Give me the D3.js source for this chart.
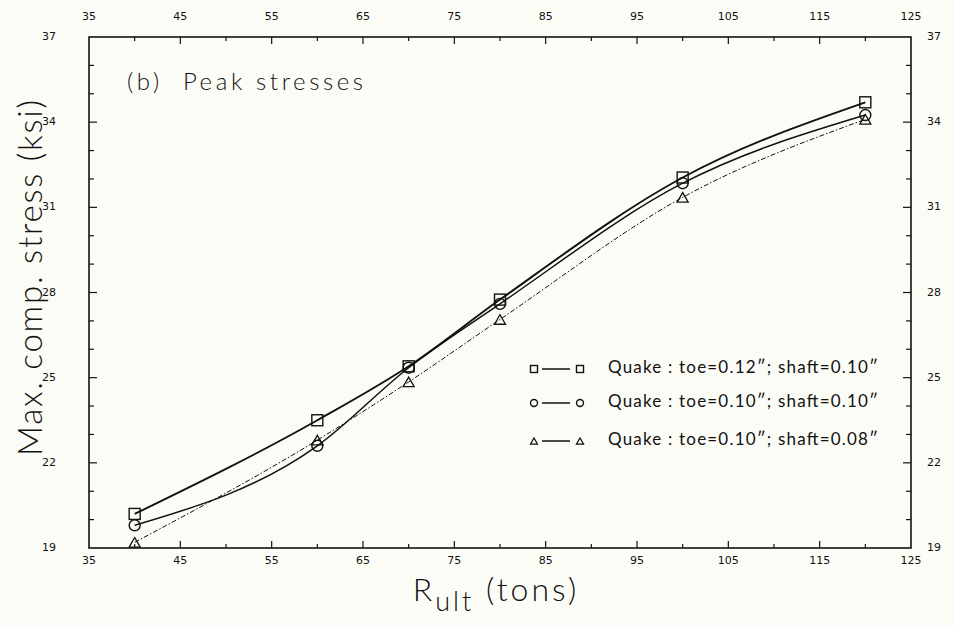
<!DOCTYPE html>
<html>
<head>
<meta charset="utf-8">
<script src="https://cdn.jsdelivr.net/npm/d3@7"></script>
<style>
  html, body { margin: 0; padding: 0; background: #fcfcf7; }
  svg { display: block; }
  .tick-label { font-family: "DejaVu Sans", sans-serif; font-size: 11px; fill: #111; }
  .big { font-family: Lato, "DejaVu Sans", sans-serif; font-weight: 300; fill: #111; }
</style>
</head>
<body>
<svg id="chart" width="954" height="626"></svg>
<script>
// Ultimate resistance (tons) at which the runs were made
const rult = [40, 60, 70, 80, 100, 120];

// Peak compressive stress (ksi) for each quake setting
const toe012Shaft010 = [20.2, 23.5, 25.4, 27.75, 32.05, 34.7];
const toe010Shaft010 = [19.8, 22.6, 25.35, 27.6, 31.85, 34.25];
const toe010Shaft008 = [19.2, 22.8, 24.85, 27.05, 31.35, 34.1];

const seriesNames = [
  "Quake : toe=0.12\u2033; shaft=0.10\u2033",
  "Quake : toe=0.10\u2033; shaft=0.10\u2033",
  "Quake : toe=0.10\u2033; shaft=0.08\u2033"
];

// Axis tick values
const xTicks = [35, 40, 45, 50, 55, 60, 65, 70, 75, 80, 85, 90, 95, 100, 105, 110, 115, 120, 125];
const xTickLabels = [35, 45, 55, 65, 75, 85, 95, 105, 115, 125];
const yTicks = d3.range(19, 38, 1);
const yTickLabels = [19, 22, 25, 28, 31, 34, 37];

const svg = d3.select("#chart");
const plotLeft = 89, plotRight = 911, plotTop = 37, plotBottom = 548;

const x = d3.scaleLinear().domain([35, 125]).range([plotLeft, plotRight]);
const y = d3.scaleLinear().domain([19, 37]).range([plotBottom, plotTop]);

// Frame
svg.append("rect")
  .attr("x", plotLeft).attr("y", plotTop)
  .attr("width", plotRight - plotLeft).attr("height", plotBottom - plotTop)
  .attr("fill", "none").attr("stroke", "#111").attr("stroke-width", 1.6);

// Inward ticks on all four sides; labelled values get longer ticks
const isMajorX = v => xTickLabels.includes(v);
const isMajorY = v => yTickLabels.includes(v);
const ticks = svg.append("g").attr("stroke", "#111").attr("stroke-width", 1.2);

xTicks.filter(v => v > 35 && v < 125).forEach(v => {
  const len = isMajorX(v) ? 7 : 4;
  ticks.append("line").attr("x1", x(v)).attr("x2", x(v)).attr("y1", plotBottom).attr("y2", plotBottom - len);
  ticks.append("line").attr("x1", x(v)).attr("x2", x(v)).attr("y1", plotTop).attr("y2", plotTop + len);
});
yTicks.filter(v => v > 19 && v < 37).forEach(v => {
  const len = isMajorY(v) ? 8 : 5;
  ticks.append("line").attr("x1", plotLeft).attr("x2", plotLeft + len).attr("y1", y(v)).attr("y2", y(v));
  ticks.append("line").attr("x1", plotRight).attr("x2", plotRight - len).attr("y1", y(v)).attr("y2", y(v));
});

// Tick labels
xTickLabels.forEach(v => {
  svg.append("text").attr("class", "tick-label")
    .attr("x", x(v)).attr("y", 561).attr("text-anchor", "middle").attr("dominant-baseline", "middle").text(v);
  svg.append("text").attr("class", "tick-label")
    .attr("x", x(v)).attr("y", 17).attr("text-anchor", "middle").attr("dominant-baseline", "middle").text(v);
});
yTickLabels.forEach(v => {
  svg.append("text").attr("class", "tick-label")
    .attr("x", 49).attr("y", y(v)).attr("text-anchor", "middle").attr("dominant-baseline", "middle").text(v);
  svg.append("text").attr("class", "tick-label")
    .attr("x", 934).attr("y", y(v)).attr("text-anchor", "middle").attr("dominant-baseline", "middle").text(v);
});

// Axis titles
svg.append("text").attr("class", "big")
  .attr("transform", `translate(42,278) rotate(-90)`)
  .attr("text-anchor", "middle")
  .style("font-size", "33px")
  .attr("textLength", 356).attr("lengthAdjust", "spacing")
  .text("Max. comp. stress (ksi)");

const xTitle = svg.append("text").attr("class", "big")
  .attr("x", 496).attr("y", 601).attr("text-anchor", "middle")
  .style("font-size", "32px").style("letter-spacing", "3px");
xTitle.append("tspan").text("R");
xTitle.append("tspan").attr("dy", 10).style("font-size", "27px").text("ult");
xTitle.append("tspan").attr("dy", -10).text(" (tons)");

// Panel title
svg.append("text").attr("class", "big")
  .attr("x", 127).attr("y", 90)
  .style("font-size", "24px")
  .attr("xml:space", "preserve")
  .attr("textLength", 236).attr("lengthAdjust", "spacing")
  .text("(b)  Peak stresses");

// Series definitions
const series = [
  { values: toe012Shaft010, marker: "square", width: 1.9, dash: null },
  { values: toe010Shaft010, marker: "circle", width: 1.5, dash: null },
  { values: toe010Shaft008, marker: "triangle", width: 1.0, dash: "5,2,1.5,2" }
];

const line = d3.line()
  .x(d => x(d[0])).y(d => y(d[1]))
  .curve(d3.curveMonotoneX);

function drawMarker(g, kind, cx, cy, size) {
  if (kind === "square") {
    g.append("rect").attr("x", cx - size / 2).attr("y", cy - size / 2)
      .attr("width", size).attr("height", size)
      .attr("fill", "none").attr("stroke", "#111").attr("stroke-width", 1.4);
  } else if (kind === "circle") {
    g.append("circle").attr("cx", cx).attr("cy", cy).attr("r", size / 2)
      .attr("fill", "none").attr("stroke", "#111").attr("stroke-width", 1.4);
  } else {
    const h = size * 0.87;
    g.append("path")
      .attr("d", `M${cx - size / 2},${cy + h / 2}L${cx + size / 2},${cy + h / 2}L${cx},${cy - h / 2}Z`)
      .attr("fill", "none").attr("stroke", "#111").attr("stroke-width", 1.3);
  }
}

const plot = svg.append("g");
series.forEach(s => {
  const pts = rult.map((r, i) => [r, s.values[i]]);
  plot.append("path").datum(pts)
    .attr("d", line)
    .attr("fill", "none").attr("stroke", "#111")
    .attr("stroke-width", s.width)
    .attr("stroke-dasharray", s.dash);
  const mg = plot.append("g");
  pts.forEach(p => drawMarker(mg, s.marker, x(p[0]), y(p[1]), 11));
});

// Legend
const legendRows = [369, 403, 441];
series.forEach((s, i) => {
  const g = svg.append("g");
  const ly = legendRows[i];
  drawMarker(g, s.marker, 534, ly, 7);
  g.append("line").attr("x1", 542).attr("x2", 570).attr("y1", ly).attr("y2", ly)
    .attr("stroke", "#111").attr("stroke-width", 1.5);
  drawMarker(g, s.marker, 580, ly, 7);
  g.append("text").attr("x", 608).attr("y", ly).attr("dominant-baseline", "middle")
    .style("font-family", "Lato, 'DejaVu Sans', sans-serif")
    .style("font-size", "17px").attr("fill", "#111")
    .attr("textLength", 270).attr("lengthAdjust", "spacing")
    .text(seriesNames[i]);
});
</script>
</body>
</html>
